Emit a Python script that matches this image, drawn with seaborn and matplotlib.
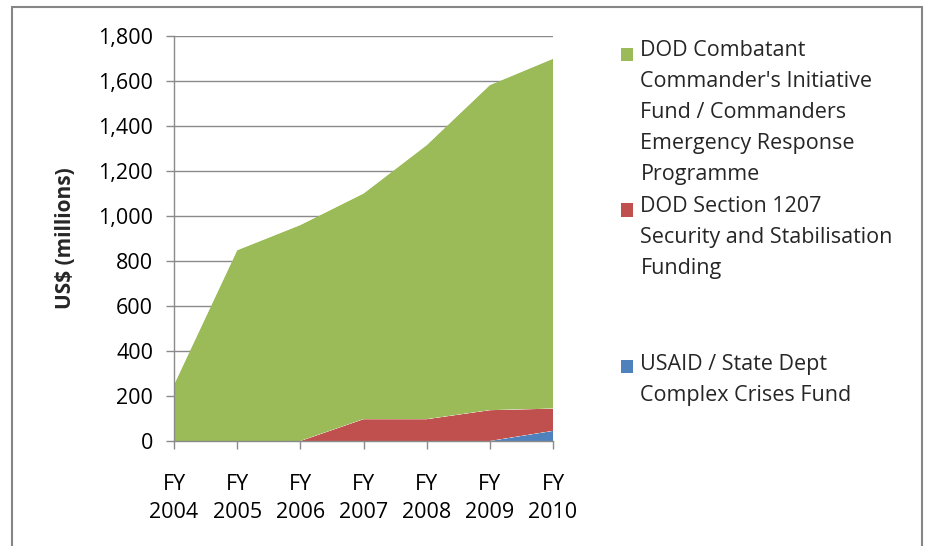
import numpy as np
import pandas as pd
import matplotlib
matplotlib.use("Agg")
import matplotlib.pyplot as plt
from matplotlib.patches import Rectangle, Patch
import seaborn as sns
import seaborn.objects as so

years = ["2004", "2005", "2006", "2007", "2008", "2009", "2010"]
tick_labels = ["FY\n2004", "FY\n2005", "FY\n2006", "FY\n2007", "FY\n2008", "FY\n2009", "FY\n2010"]
usaid = [0, 0, 0, 0, 0, 0, 45]
dod1207 = [0, 0, 0, 97, 97, 137, 99]
cerp = [250, 848, 960, 1003, 1218, 1445, 1555]

series_names = [
    "USAID / State Dept\nComplex Crises Fund",
    "DOD Section 1207\nSecurity and Stabilisation\nFunding",
    "DOD Combatant\nCommander's Initiative\nFund / Commanders\nEmergency Response\nProgramme",
]
colors = ["#4F81BD", "#C0504D", "#9BBB59"]

sns.set_theme(style="white")
plt.rcParams["font.family"] = ["Open Sans", "DejaVu Sans"]

rows = []
for name, vals in zip(series_names, [usaid, dod1207, cerp]):
    for i, v in enumerate(vals):
        rows.append({"x": i, "value": v, "series": name})
df = pd.DataFrame(rows)

fig = plt.figure(figsize=(9.25, 5.46), dpi=100)
ax = fig.add_axes([174 / 925, 1 - 441 / 546, (553 - 174) / 925, (441 - 36) / 546])

(
    so.Plot(df, x="x", y="value", color="series")
    .add(so.Area(alpha=1, edgewidth=0), so.Stack())
    .scale(color=dict(zip(series_names, colors)))
    .on(ax)
    .plot()
)
fig.legends.clear()

ax.set_facecolor("white")
ax.set_xlim(0, len(years) - 1)
ax.set_ylim(0, 1800)
ax.set_yticks(np.arange(0, 1801, 200))
ax.set_yticklabels([f"{v:,}" for v in range(0, 1801, 200)])
ax.set_xticks(range(len(years)))
ax.set_xticklabels(tick_labels, linespacing=1.4)
ax.set_xlabel("")
ax.set_ylabel("US$ (millions)", fontsize=15, fontweight="bold", labelpad=16)

grid_c = "#8A8A8A"
ax.yaxis.grid(True, color=grid_c, linewidth=1)
ax.xaxis.grid(False)
ax.set_axisbelow(True)
for s in ["top", "right"]:
    ax.spines[s].set_visible(False)
for s in ["left", "bottom"]:
    ax.spines[s].set_visible(True)
    ax.spines[s].set_color(grid_c)
    ax.spines[s].set_linewidth(1)
ax.tick_params(axis="both", colors=grid_c, labelcolor="black", labelsize=15.5,
               length=6, width=1, direction="out", bottom=True, left=True)
ax.tick_params(axis="y", pad=9)
ax.tick_params(axis="x", pad=18)

# legends (three separate entries, as in the reference)
legend_pos = [(0.671, 0.927, 2), (0.671, 0.641, 1), (0.671, 0.352, 0)]
legends = []
for xa, ya, idx in legend_pos:
    lg = fig.legend(handles=[Patch(facecolor=colors[idx], edgecolor="none")],
                    labels=[series_names[idx]], loc="upper left",
                    bbox_to_anchor=(xa, ya), frameon=False, fontsize=15.5,
                    handlelength=0.58, handleheight=0.58, handletextpad=0.34,
                    borderpad=0, borderaxespad=0)
    for t in lg.get_texts():
        t.set_linespacing(1.62)
    legends.append(lg)

# move each legend marker up so it sits beside the first line of its label
fig.canvas.draw()
for lg in legends:
    txt = lg.get_texts()[0]
    patch = lg.get_patches()[0]
    tb = txt.get_window_extent()
    pb = patch.get_window_extent()
    n = txt.get_text().count("\n") + 1
    line_h = tb.height / n
    target_c = tb.y1 - line_h * 0.5
    cur_c = (pb.y0 + pb.y1) / 2
    patch.set_y(patch.get_y() + (target_c - cur_c) * 72 / fig.dpi)

fig.patches.append(Rectangle((12 / 925, -0.2), (922 - 12) / 925, 1.2 - 7 / 546,
                             transform=fig.transFigure, fill=False,
                             edgecolor="#868686", linewidth=1.5))

fig.savefig("out.png", dpi=100)
